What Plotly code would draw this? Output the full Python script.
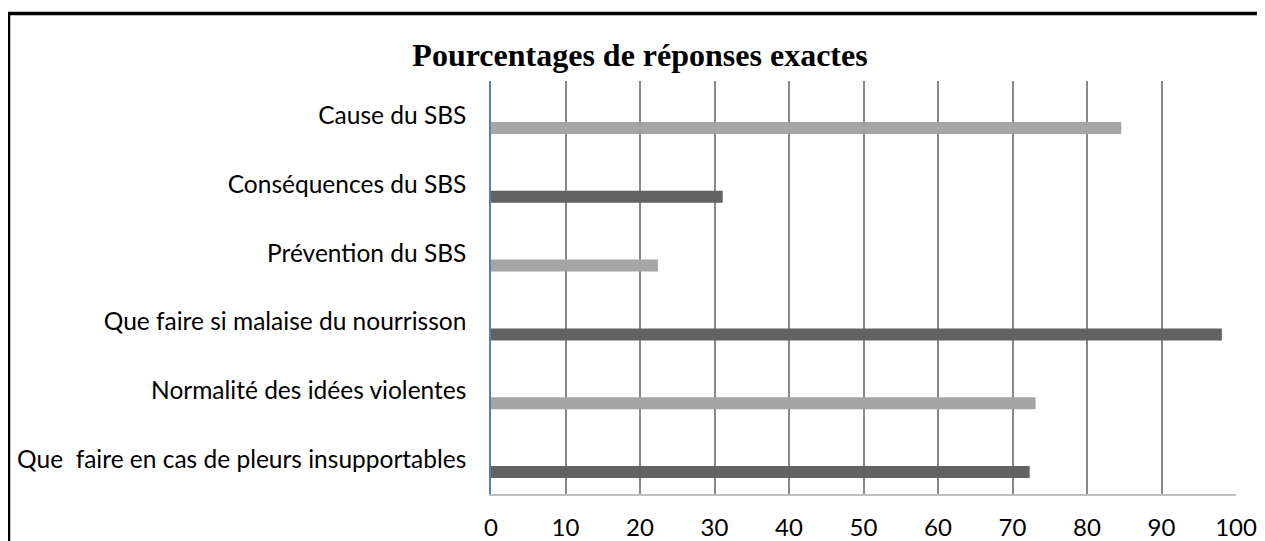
import plotly.graph_objects as go

categories = [
    "Que  faire en cas de pleurs insupportables",
    "Normalité des idées violentes",
    "Que faire si malaise du nourrisson",
    "Prévention du SBS",
    "Conséquences du SBS",
    "Cause du SBS",
]
values = [72.3, 73.1, 98.1, 22.4, 31.1, 84.6]
x_ticks = [0, 10, 20, 30, 40, 50, 60, 70, 80, 90, 100]
title_text = "Pourcentages de réponses exactes"

DARK = "#626262"
LIGHT = "#a5a5a5"
bar_colors = [DARK, LIGHT, DARK, LIGHT, DARK, LIGHT]

fig = go.Figure()
fig.add_trace(go.Bar(
    y=categories,
    x=values,
    orientation="h",
    marker=dict(color=bar_colors, line=dict(width=0)),
    width=0.175,
    offset=-0.269,
    hoverinfo="x+y",
))

# the page body adds an 8px margin, so the layout is drawn 8px up/left
SH = 8
W, H = 1265 - SH, 541
L, R, T, B = 491 - SH, 1236 - SH, 81 - SH, 494 - SH
pw, ph = R - L, B - T

def px(xp):
    return (xp - L) / pw

def py(yp):
    return (B - yp) / ph

fig.update_layout(
    width=W, height=H,
    margin=dict(l=L, r=W - R, t=T, b=H - B, autoexpand=False),
    paper_bgcolor="white",
    plot_bgcolor="white",
    showlegend=False,
    font=dict(family="Lato, sans-serif", size=24, color="#000000"),
    title=dict(
        text="<b>" + title_text + "</b>",
        font=dict(family="Liberation Serif, Times New Roman, serif", size=32, color="#000000"),
        x=(640 - SH) / W, xanchor="center",
        y=1 - (55 - SH) / H, yanchor="middle",
    ),
    xaxis=dict(
        range=[0, 100],
        tickvals=x_ticks,
        ticktext=[str(v) for v in x_ticks],
        showgrid=True,
        gridcolor="#888888",
        gridwidth=1.5,
        zeroline=False,
        showline=True,
        linecolor="#c0c0c0",
        linewidth=1.5,
        ticks="",
        ticklabelstandoff=11,
        automargin=False,
        tickfont=dict(family="Lato, sans-serif", size=24),
        fixedrange=True,
    ),
    yaxis=dict(
        categoryorder="array",
        categoryarray=categories,
        range=[-0.5, 5.5],
        showgrid=False,
        zeroline=False,
        showline=True,
        linecolor="#4f81bd",
        linewidth=1.5,
        ticks="",
        ticklabelstandoff=18,
        automargin=False,
        tickfont=dict(family="Lato, sans-serif", size=24.5),
        fixedrange=True,
    ),
    shapes=[
        dict(type="line", xref="paper", yref="paper",
             x0=px(0), x1=px(W + 5), y0=py(13.5 - SH), y1=py(13.5 - SH),
             line=dict(color="#000000", width=3.5)),
        dict(type="line", xref="paper", yref="paper",
             x0=px(0.5), x1=px(0.5), y0=py(12 - SH), y1=py(H + 5),
             line=dict(color="#000000", width=3.5)),
    ],
)

fig.write_html("out.html")
